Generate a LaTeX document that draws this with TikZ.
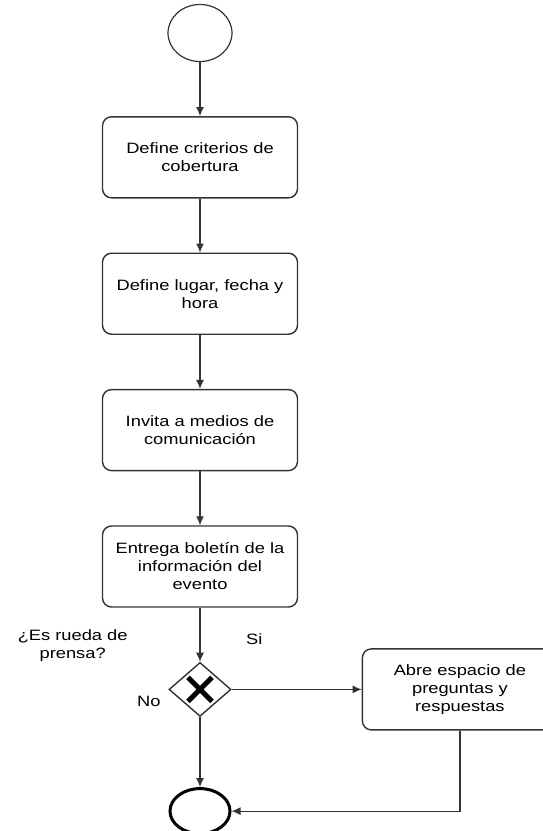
\documentclass[tikz,border=0pt]{standalone}
\usepackage{fontspec}
\newfontfamily\flowfont[FakeStretch=1.22]{Liberation Sans}
\usetikzlibrary{arrows.meta, positioning, shapes.geometric}
\tikzset{%
	startev/.style={draw=black!80, ellipse, minimum width=64pt, minimum height=57pt,
		inner sep=0mm, line width=1.2pt},
	endev/.style={draw=black, ellipse, minimum width=60pt, minimum height=45pt,
		inner sep=0mm, line width=3pt},
	task/.style={draw=black!80, rectangle, rounded corners=9pt, minimum width=195pt,%
		minimum height=81pt, align=center, line width=1.4pt,
		font=\flowfont\fontsize{15}{18}\selectfont},
	gate/.style={draw=black!80, diamond, minimum width=62pt, minimum height=54pt,
		inner sep=0mm, line width=1.4pt,
		path picture={\draw[line width=5pt, black]
			([shift={(-12pt,-12pt)}]path picture bounding box.center) -- ([shift={(12pt,12pt)}]path picture bounding box.center)
			([shift={(-12pt,12pt)}]path picture bounding box.center) -- ([shift={(12pt,-12pt)}]path picture bounding box.center);}},
	flow/.style={-{Latex[length=9pt,width=8pt]}, line width=1.2pt, draw=black!80},
	lbl/.style={font=\flowfont\fontsize{15}{18}\selectfont, align=center}
}
\begin{document}
\begin{tikzpicture}[node distance=54pt]
	\useasboundingbox (0,0) rectangle (542pt,-831pt);

	\node[startev] (inicio) at (200pt,-33pt) {};
	\node[task, below=of inicio]    (criterios) {Define criterios de\\cobertura};
	\node[task, below=of criterios] (lugar)     {Define lugar, fecha y\\hora};
	\node[task, below=of lugar]     (invita)    {Invita a medios de\\comunicación};
	\node[task, below=of invita]    (boletin)   {Entrega boletín de la\\información del\\evento};
	\node[gate, below=of boletin]   (prensa)    {};
	\node[task, right=130pt of prensa] (preguntas) {Abre espacio de\\preguntas y\\respuestas};
	\node[endev, below=70pt of prensa] (fin) {};

	\node[lbl, left=53pt of prensa.north west, yshift=30pt] (pregunta) {¿Es rueda de\\prensa?};
	\node[lbl, above right=41pt and 11pt of prensa.east] (si) {Si};
	\node[lbl, left=20pt of prensa.south west, yshift=2pt] (no) {No};

	\draw[flow] (inicio)    to (criterios);
	\draw[flow] (criterios) to (lugar);
	\draw[flow] (lugar)     to (invita);
	\draw[flow] (invita)    to (boletin);
	\draw[flow] (boletin)   to (prensa);
	\draw[flow] (prensa)    to (preguntas);
	\draw[flow] (prensa)    to (fin);
	\draw[flow] (preguntas.south) |- (fin.east);
\end{tikzpicture}
\end{document}
